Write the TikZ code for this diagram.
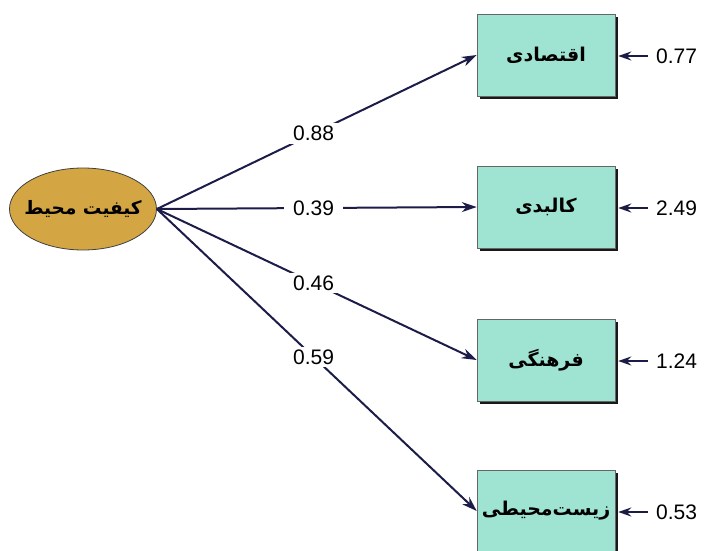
\documentclass[tikz,border=0pt]{standalone}
\usepackage{fontspec}
\setmainfont{Liberation Sans}
\newfontfamily\arabicfont[Script=Arabic]{DejaVu Sans}
\TeXXeTstate=1
\usetikzlibrary{arrows.meta,shadows,shapes.geometric}
\definecolor{gold}{HTML}{D4A643}
\definecolor{mint}{HTML}{9FE3D2}
\definecolor{navy}{HTML}{1C1C48}
\begin{document}
\begin{tikzpicture}[x=1pt,y=-1pt,
  latent/.style={ellipse, draw=black!75, line width=0.8pt, fill=gold, minimum width=147pt, minimum height=82pt, inner xsep=-12pt, inner ysep=0pt, font=\arabicfont\bfseries\fontsize{18.5}{22}\selectfont},
  var/.style={draw=black!60, line width=0.5pt, fill=mint, minimum width=138pt, minimum height=82pt, inner sep=0pt, font=\arabicfont\bfseries\fontsize{19}{22}\selectfont, drop shadow={shadow xshift=3pt, shadow yshift=-3pt, fill=black, opacity=0.9}},
  path/.style={draw=navy, line width=2pt, -{Stealth[length=15pt,width=10pt]}},
  err/.style={draw=navy, line width=2pt, -{Stealth[length=13pt,width=9pt]}},
  coef/.style={fill=white, inner xsep=9pt, inner ysep=3pt, font=\fontsize{21}{25}\selectfont},
  errlab/.style={anchor=west, inner sep=0pt, font=\fontsize{21}{25}\selectfont}
]
\useasboundingbox (0,0) rectangle (705,551);
\node[latent] (e) at (83,209) {\beginR کیفیت محیط\endR};
\node[var] (b1) at (546,55) {\beginR اقتصادی\endR};
\node[var] (b2) at (546,207) {\beginR کالبدی\endR};
\node[var] (b3) at (546,360) {\beginR فرهنگی\endR};
\node[var] (b4) at (546,511) {\beginR زیست‌محیطی\endR};
\draw[path] (e.east) -- (b1.west) node[coef, pos=0.49] {0.88};
\draw[path] (e.east) -- (b2.west) node[coef, pos=0.49] {0.39};
\draw[path] (e.east) -- (b3.west) node[coef, pos=0.49] {0.46};
\draw[path] (e.east) -- (b4.west) node[coef, pos=0.49] {0.59};
\node[errlab] (l1) at (656,56) {0.77};
\node[errlab] (l2) at (656,208) {2.49};
\node[errlab] (l3) at (656,361) {1.24};
\node[errlab] (l4) at (656,512) {0.53};
\draw[err] ([xshift=-8pt]l1.west) -- ([xshift=3pt,yshift=-1pt]b1.east);
\draw[err] ([xshift=-8pt]l2.west) -- ([xshift=3pt,yshift=-1pt]b2.east);
\draw[err] ([xshift=-8pt]l3.west) -- ([xshift=3pt,yshift=-1pt]b3.east);
\draw[err] ([xshift=-8pt]l4.west) -- ([xshift=3pt,yshift=-1pt]b4.east);
\end{tikzpicture}
\end{document}
